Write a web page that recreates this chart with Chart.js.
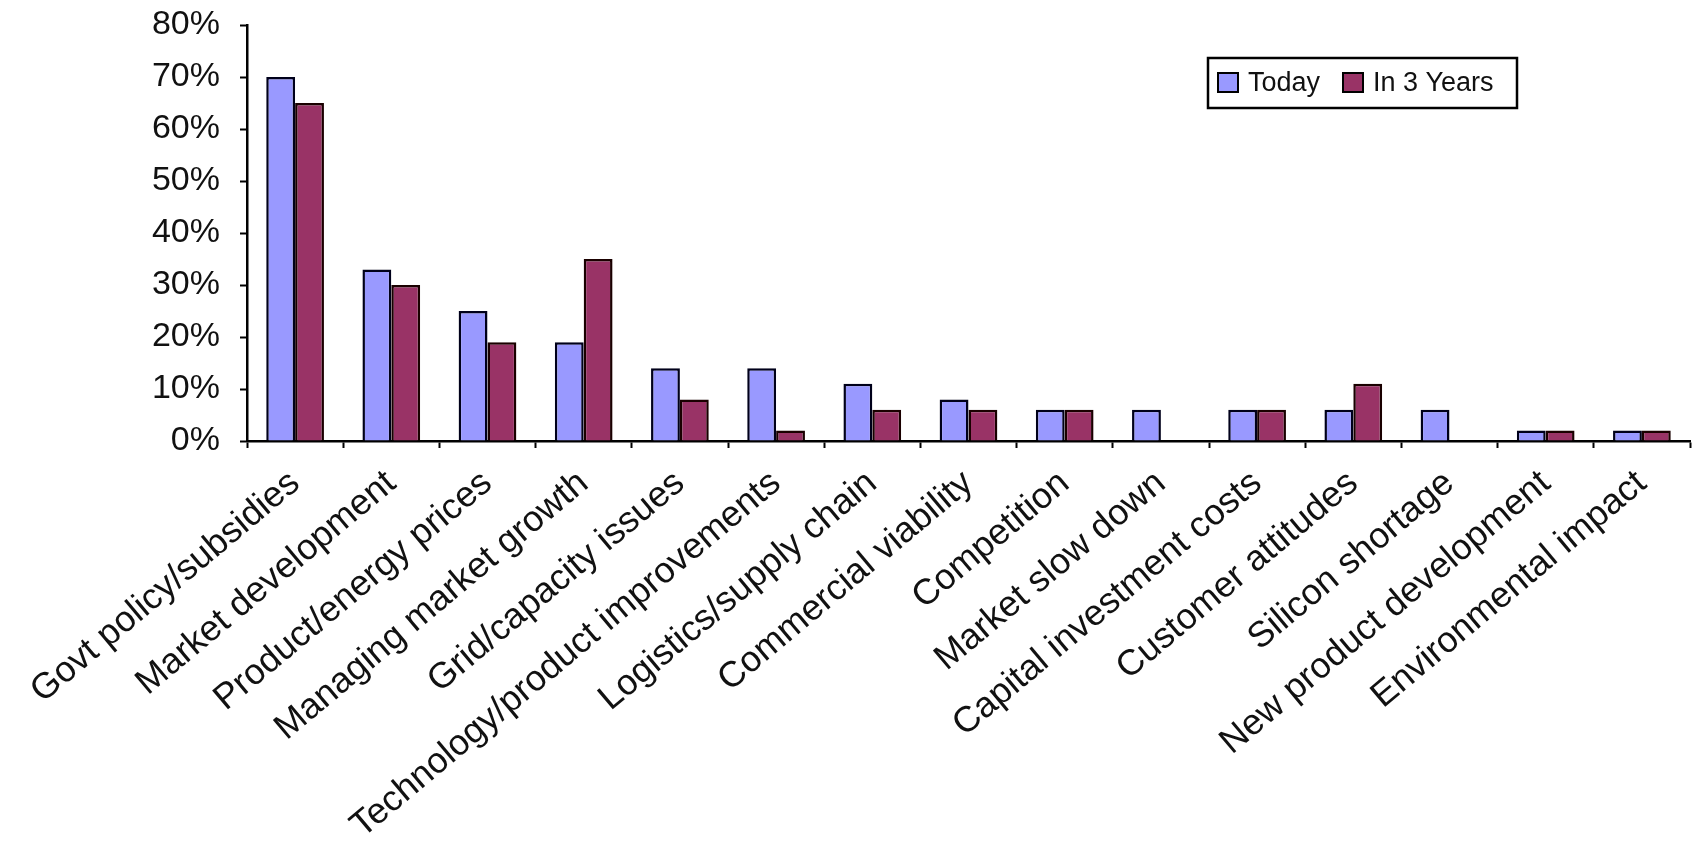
<!DOCTYPE html>
<html>
<head>
<meta charset="utf-8">
<script src="https://cdn.jsdelivr.net/npm/chart.js@4.4.1/dist/chart.umd.min.js"></script>
<style>
  html, body { margin: 0; padding: 0; background: #ffffff; overflow: hidden; }
  #wrap { width: 1693px; height: 843px; position: relative; }
</style>
</head>
<body>
<div id="wrap"><canvas id="c" width="1693" height="843"></canvas></div>
<script>
const categories = [
  "Govt policy/subsidies",
  "Market development",
  "Product/energy prices",
  "Managing market growth",
  "Grid/capacity issues",
  "Technology/product improvements",
  "Logistics/supply chain",
  "Commercial viability",
  "Competition",
  "Market slow down",
  "Capital investment costs",
  "Customer attitudes",
  "Silicon shortage",
  "New product development",
  "Environmental impact"
];
const seriesNames = ["Today", "In 3 Years"];
const todayValues   = [70, 33, 25, 19, 14, 14, 11, 8, 6, 6, 6, 6, 6, 2, 2];
const in3YearsValues = [65, 30, 19, 35, 8, 2, 6, 6, 6, 0, 6, 11, 0, 2, 2];
const yTickValues = [0, 10, 20, 30, 40, 50, 60, 70, 80];

const FONT = "Arial, 'Liberation Sans', sans-serif";

const boxLegend = {
  id: 'boxLegend',
  afterDraw(chart) {
    const ctx = chart.ctx;
    const bx = 1208, by = 58, bw = 309, bh = 50;
    ctx.save();
    ctx.fillStyle = '#ffffff';
    ctx.fillRect(bx, by, bw, bh);
    ctx.lineWidth = 2.5;
    ctx.strokeStyle = '#000000';
    ctx.strokeRect(bx, by, bw, bh);
    const items = chart.data.datasets;
    const xs = [1218, 1343];
    ctx.font = "27px " + FONT;
    ctx.textBaseline = 'middle';
    ctx.textAlign = 'left';
    items.forEach((ds, i) => {
      const mx = xs[i], my = by + 15;
      ctx.fillStyle = ds.backgroundColor;
      ctx.fillRect(mx, my, 20, 19);
      ctx.lineWidth = 2;
      ctx.strokeStyle = '#000000';
      ctx.strokeRect(mx, my, 20, 19);
      ctx.fillStyle = '#111111';
      ctx.fillText(ds.label, mx + 30, by + bh / 2 + 1);
    });
    ctx.restore();
  }
};

new Chart(document.getElementById('c'), {
  type: 'bar',
  data: {
    labels: categories,
    datasets: [
      {
        label: seriesNames[0],
        data: todayValues,
        backgroundColor: '#9999FF',
        borderColor: '#00001a',
        borderWidth: 2.5,
        categoryPercentage: 0.6,
        barPercentage: 1.0
      },
      {
        label: seriesNames[1],
        data: in3YearsValues,
        backgroundColor: '#993366',
        borderColor: '#1a0000',
        borderWidth: 2.5,
        categoryPercentage: 0.6,
        barPercentage: 1.0
      }
    ]
  },
  options: {
    responsive: false,
    animation: false,
    devicePixelRatio: 1,
    layout: { padding: { top: 25, right: 3, left: 0, bottom: 0 } },
    plugins: {
      legend: { display: false },
      tooltip: { enabled: false },
      title: { display: false }
    },
    scales: {
      x: {
        grid: { display: true, drawOnChartArea: false, drawTicks: true, tickLength: 7, tickWidth: 2, tickColor: '#000', offset: true },
        border: { display: true, color: '#000', width: 2.5 },
        ticks: {
          autoSkip: false, minRotation: 40, maxRotation: 40, padding: 14,
          color: '#111', font: { family: FONT, size: 36 }
        },
        afterFit: (s) => { s.height = 402; }
      },
      y: {
        min: 0, max: 80,
        afterBuildTicks: (s) => { s.ticks = yTickValues.map(v => ({ value: v })); },
        grid: { display: true, drawOnChartArea: false, drawTicks: true, tickLength: 7, tickWidth: 2, tickColor: '#000' },
        border: { display: true, color: '#000', width: 2.5 },
        ticks: {
          padding: 20, color: '#111', font: { family: FONT, size: 34 },
          callback: (v) => v + '%'
        },
        afterFit: (s) => { s.width = 247; s.paddingTop = 0; s.paddingBottom = 0; }
      }
    }
  },
  plugins: [boxLegend]
});
</script>
</body>
</html>
